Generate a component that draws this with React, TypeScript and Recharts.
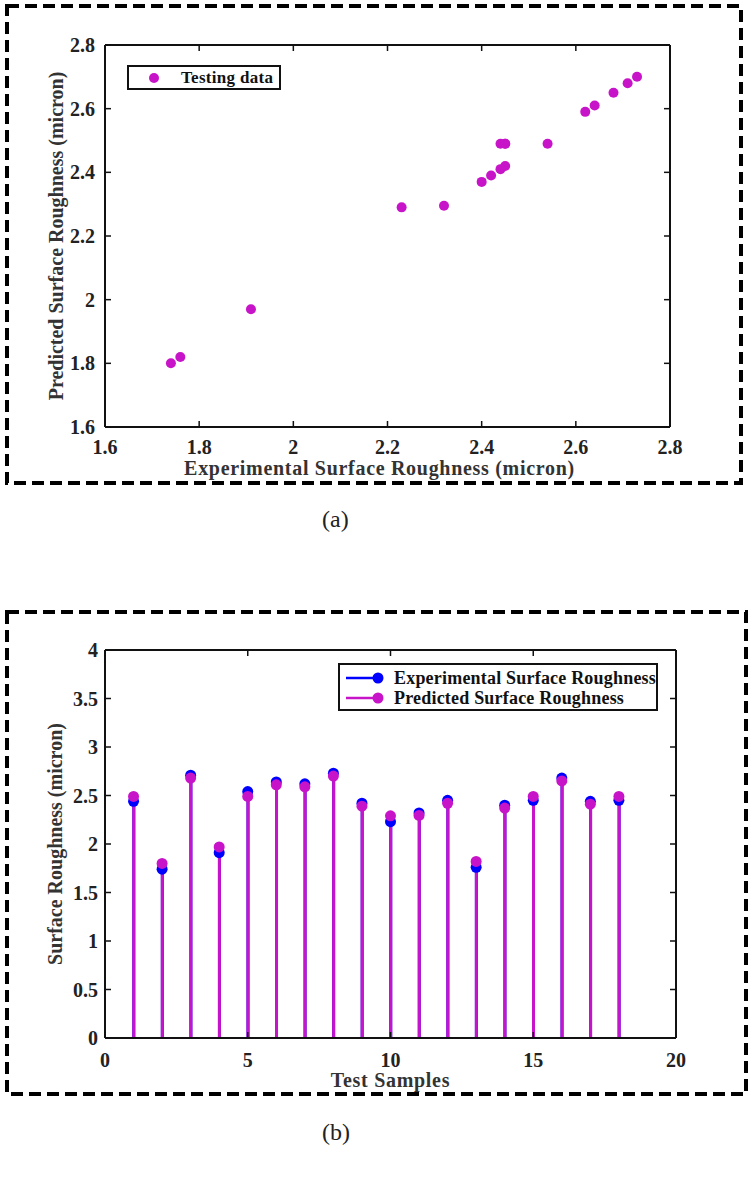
import React from "react"
import { ScatterChart, Scatter, ComposedChart, Bar, Line, XAxis, YAxis, Legend } from "recharts"

// test samples 1..18
const samples = [1, 2, 3, 4, 5, 6, 7, 8, 9, 10, 11, 12, 13, 14, 15, 16, 17, 18]
const experimental = [2.44, 1.74, 2.71, 1.91, 2.54, 2.64, 2.62, 2.73, 2.42, 2.23, 2.32, 2.45, 1.76, 2.4, 2.45, 2.68, 2.44, 2.45]
const predicted = [2.49, 1.8, 2.68, 1.97, 2.49, 2.61, 2.59, 2.7, 2.39, 2.29, 2.295, 2.42, 1.82, 2.37, 2.49, 2.65, 2.41, 2.49]

const scatterTicks = [1.6, 1.8, 2, 2.2, 2.4, 2.6, 2.8]
const sampleTicks = [0, 5, 10, 15, 20]
const roughnessTicks = [0, 0.5, 1, 1.5, 2, 2.5, 3, 3.5, 4]

const MAGENTA = "#c814c8"
const BLUE = "#0000ff"
const FONT = "'Liberation Serif', 'Times New Roman', serif"
const TICK_LEN = 6

const xLabelStyle = { fill: "#333", fontSize: 20, fontWeight: "bold" as const, fontFamily: FONT, letterSpacing: 0.7 }
const yLabelStyle = { fill: "#333", fontSize: 20, fontWeight: "bold" as const, fontFamily: FONT, textAnchor: "middle" as const }

const scatterData = experimental.map((e, i) => ({ exp: e, pred: predicted[i] }))
const stemData = samples.map((s, i) => ({ sample: s, exp: experimental[i], pred: predicted[i] }))

// MATLAB-style ticks: short marks pointing into the plot, label outside
const makeTick = (side: "bottom" | "top" | "left" | "right", gap: number, withLabel: boolean) => (props: any) => {
  const { x, y, payload } = props
  let mark = null
  if (side === "bottom") mark = <line x1={x} y1={y - gap} x2={x} y2={y - gap - TICK_LEN} stroke="#111" strokeWidth={1.5} />
  if (side === "top") mark = <line x1={x} y1={y} x2={x} y2={y + TICK_LEN} stroke="#111" strokeWidth={1.5} />
  if (side === "left") mark = <line x1={x + gap} y1={y} x2={x + gap + TICK_LEN} y2={y} stroke="#111" strokeWidth={1.5} />
  if (side === "right") mark = <line x1={x} y1={y} x2={x - TICK_LEN} y2={y} stroke="#111" strokeWidth={1.5} />
  return (
    <g>
      {mark}
      {withLabel && (
        <text
          x={x}
          y={y}
          dy={side === "bottom" ? "0.71em" : "0.355em"}
          textAnchor={side === "bottom" ? "middle" : "end"}
          fill="#222"
          fontSize={20}
          fontWeight="bold"
          fontFamily={FONT}
        >
          {payload.value}
        </text>
      )}
    </g>
  )
}

const DashedBox = ({ x, y, w, h }: { x: number; y: number; w: number; h: number }) => (
  <svg style={{ position: "absolute", left: x, top: y, display: "block" }} width={w} height={h}>
    <rect x={2} y={2} width={w - 4} height={h - 4} fill="none" stroke="#000" strokeWidth={4} strokeDasharray="12 6" />
  </svg>
)

const ScatterLegend = () => (
  <div
    style={{
      border: "2px solid #111",
      width: 150,
      height: 21,
      display: "flex",
      alignItems: "center",
      fontFamily: FONT,
      fontWeight: "bold",
      fontSize: 17,
      letterSpacing: 0.3,
      color: "#111",
      background: "#fff",
    }}
  >
    <svg width={52} height={20}>
      <circle cx={25} cy={10} r={5} fill={MAGENTA} />
    </svg>
    <span>Testing data</span>
  </div>
)

const StemLegend = () => (
  <div
    style={{
      border: "2px solid #111",
      width: 320,
      height: 48,
      fontFamily: FONT,
      fontWeight: "bold",
      fontSize: 18,
      letterSpacing: 0.2,
      color: "#111",
      background: "#fff",
      paddingTop: 3,
      boxSizing: "border-box",
    }}
  >
    {[
      { name: "Experimental Surface Roughness", color: BLUE },
      { name: "Predicted Surface Roughness", color: MAGENTA },
    ].map((item) => (
      <div key={item.name} style={{ display: "flex", alignItems: "center", height: 20, whiteSpace: "nowrap" }}>
        <svg width={54} height={20} style={{ flex: "none" }}>
          <line x1={6} y1={10} x2={38} y2={10} stroke={item.color} strokeWidth={2.5} />
          <circle cx={38} cy={10} r={5.5} fill={item.color} />
        </svg>
        <span>{item.name}</span>
      </div>
    ))}
  </div>
)

export default function App() {
  return (
    <div style={{ position: "absolute", left: 0, top: 0, width: 753, height: 1182, background: "#fff", overflow: "hidden" }}>
      <DashedBox x={5} y={4} w={738} h={481} />
      <DashedBox x={5} y={610} w={743} h={486} />

      <div style={{ position: "absolute", left: 0, top: 0 }}>
        <ScatterChart width={753} height={500} margin={{ top: 44, right: 82, left: 0, bottom: 27 }}>
          <XAxis
            xAxisId="bottom"
            dataKey="exp"
            type="number"
            domain={[1.6, 2.8]}
            allowDataOverflow
            ticks={scatterTicks}
            height={46}
            tickSize={0}
            tickLine={false}
            tickMargin={13}
            tick={makeTick("bottom", 13, true)}
            stroke="#111"
            strokeWidth={2}
            label={{ value: "Experimental Surface Roughness (micron)", position: "insideBottom", offset: -2, dx: -8, style: xLabelStyle }}
          />
          <XAxis
            xAxisId="top"
            dataKey="exp"
            orientation="top"
            type="number"
            domain={[1.6, 2.8]}
            allowDataOverflow
            ticks={scatterTicks}
            height={1}
            tickSize={0}
            tickLine={false}
            tickMargin={0}
            tick={makeTick("top", 0, false)}
            stroke="#111"
            strokeWidth={2}
          />
          <YAxis
            yAxisId="left"
            dataKey="pred"
            type="number"
            domain={[1.6, 2.8]}
            allowDataOverflow
            ticks={scatterTicks}
            width={105}
            tickSize={0}
            tickLine={false}
            tickMargin={10}
            tick={makeTick("left", 10, true)}
            stroke="#111"
            strokeWidth={2}
            label={{ value: "Predicted Surface Roughness (micron)", angle: -90, position: "insideLeft", offset: 56, style: yLabelStyle }}
          />
          <YAxis
            yAxisId="right"
            dataKey="pred"
            orientation="right"
            type="number"
            domain={[1.6, 2.8]}
            allowDataOverflow
            ticks={scatterTicks}
            width={1}
            tickSize={0}
            tickLine={false}
            tickMargin={0}
            tick={makeTick("right", 0, false)}
            stroke="#111"
            strokeWidth={2}
          />
          <Legend layout="vertical" align="center" verticalAlign="middle" wrapperStyle={{ top: 65, left: 127, width: 154 }} content={() => <ScatterLegend />} />
          {/* invisible copy so the top/right frame axes have data */}
          <Scatter data={scatterData} xAxisId="top" yAxisId="right" shape={() => <g />} legendType="none" isAnimationActive={false} />
          <Scatter
            name="Testing data"
            data={scatterData}
            xAxisId="bottom"
            yAxisId="left"
            fill={MAGENTA}
            shape={(p: any) => <circle cx={p.cx} cy={p.cy} r={5} fill={MAGENTA} />}
            isAnimationActive={false}
          />
        </ScatterChart>
      </div>

      <div style={{ position: "absolute", left: 322, top: 506, fontFamily: FONT, fontSize: 24, color: "#222" }}>(a)</div>

      <div style={{ position: "absolute", left: 0, top: 580 }}>
        <ComposedChart width={753} height={520} data={stemData} margin={{ top: 69, right: 76, left: 0, bottom: 13 }} barGap={-3}>
          <XAxis
            xAxisId="bottom"
            dataKey="sample"
            type="number"
            domain={[0, 20]}
            allowDataOverflow
            ticks={sampleTicks}
            height={49}
            tickSize={0}
            tickLine={false}
            tickMargin={15}
            tick={makeTick("bottom", 15, true)}
            stroke="#111"
            strokeWidth={2}
            label={{ value: "Test Samples", position: "insideBottom", offset: 0, style: xLabelStyle }}
          />
          <XAxis
            xAxisId="top"
            dataKey="sample"
            orientation="top"
            type="number"
            domain={[0, 20]}
            allowDataOverflow
            ticks={sampleTicks}
            height={1}
            tickSize={0}
            tickLine={false}
            tickMargin={0}
            tick={makeTick("top", 0, false)}
            stroke="#111"
            strokeWidth={2}
          />
          <YAxis
            yAxisId="left"
            type="number"
            domain={[0, 4]}
            allowDataOverflow
            ticks={roughnessTicks}
            width={105}
            tickSize={0}
            tickLine={false}
            tickMargin={7}
            tick={makeTick("left", 7, true)}
            stroke="#111"
            strokeWidth={2}
            label={{ value: "Surface Roughness (micron)", angle: -90, position: "insideLeft", offset: 55, style: yLabelStyle }}
          />
          <YAxis
            yAxisId="right"
            orientation="right"
            type="number"
            domain={[0, 4]}
            allowDataOverflow
            ticks={roughnessTicks}
            width={1}
            tickSize={0}
            tickLine={false}
            tickMargin={0}
            tick={makeTick("right", 0, false)}
            stroke="#111"
            strokeWidth={2}
          />
          <Legend layout="vertical" align="center" verticalAlign="middle" wrapperStyle={{ top: 83, left: 338, width: 324 }} content={() => <StemLegend />} />
          {/* invisible copy so the top/right frame axes have data */}
          <Line dataKey="pred" xAxisId="top" yAxisId="right" stroke="none" dot={false} activeDot={false} legendType="none" isAnimationActive={false} />
          <Bar dataKey="exp" xAxisId="bottom" yAxisId="left" fill={BLUE} barSize={3} isAnimationActive={false} />
          <Bar dataKey="pred" xAxisId="bottom" yAxisId="left" fill={MAGENTA} barSize={3} isAnimationActive={false} />
          <Line dataKey="exp" xAxisId="bottom" yAxisId="left" stroke="none" dot={{ r: 5.5, fill: BLUE, stroke: BLUE, strokeWidth: 0 }} activeDot={false} isAnimationActive={false} />
          <Line dataKey="pred" xAxisId="bottom" yAxisId="left" stroke="none" dot={{ r: 5.5, fill: MAGENTA, stroke: MAGENTA, strokeWidth: 0 }} activeDot={false} isAnimationActive={false} />
        </ComposedChart>
      </div>

      <div style={{ position: "absolute", left: 322, top: 1119, fontFamily: FONT, fontSize: 24, color: "#222" }}>(b)</div>
    </div>
  )
}
